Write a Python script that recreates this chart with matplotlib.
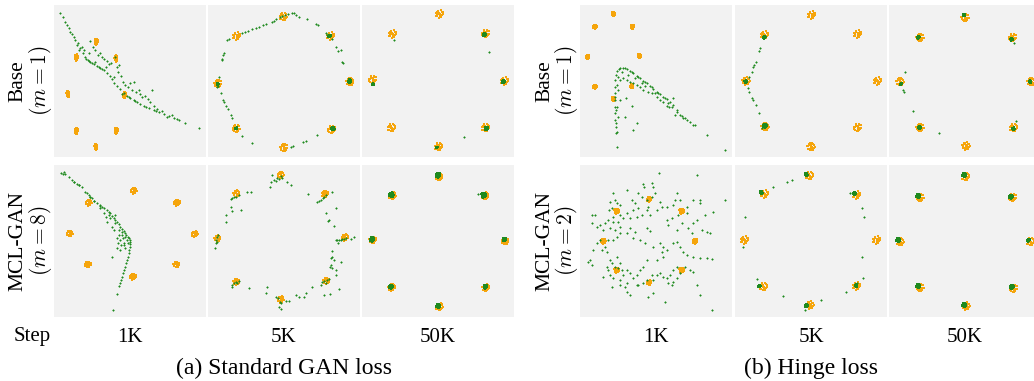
import numpy as np
import matplotlib
matplotlib.use("Agg")
import matplotlib.pyplot as plt

plt.rcParams['font.family'] = ['Liberation Serif', 'DejaVu Serif']
plt.rcParams['mathtext.fontset'] = 'cm'

ORANGE = '#f5a50c'
GREEN = '#1f8a1f'
BG = '#f2f2f2'

# ---------------- data (sample coordinates) ----------------
# unit spread pattern of one Gaussian mode
blob_dx = [0.0, 0.5, -0.5, 0.9, -0.9, 0.2, -0.3, 0.6, -0.6, 0.1, 0.8, -0.8,
           0.35, -0.15, 0.0, 0.45, -0.45, 0.7, -0.7, 0.25]
blob_dy = [0.0, 0.3, -0.4, 0.1, -0.2, 0.8, -0.8, -0.6, 0.6, 0.45, -0.5, 0.5,
           -0.9, 0.95, -0.35, 0.75, -0.7, 0.25, -0.1, 0.1]

row_names = ["Base", "MCL-GAN"]
m_std = [1, 8]
m_hinge = [1, 2]
steps = ["1K", "5K", "50K"]
captions = ["(a) Standard GAN loss", "(b) Hinge loss"]

# real modes (8 Gaussians), per panel view
real_a1 = [(288,125),(347,175),(373,285),(348,392),(287,440),(228,393),(203,282),(228,172)]
real_a2 = [(233,50),(375,108),(433,245),(378,388),(235,442),(92,385),(37,250),(93,108)]
real_a3 = [(237,42),(376,100),(432,243),(375,383),(235,440),(93,383),(37,238),(96,102)]
real_b1 = [(400,92),(530,128),(583,222),(528,313),(398,350),(263,313),(208,220),(265,128)]
real_b2 = [(225,45),(358,102),(418,232),(362,362),(225,418),(92,365),(35,235),(92,100)]
real_b3 = [(236,50),(374,107),(434,243),(376,383),(237,440),(94,382),(37,240),(96,107)]
real_c1 = [(280,42),(337,80),(358,168),(335,258),(280,297),(225,260),(203,170),(225,80)]
real_c2 = [(260,45),(398,102),(457,243),(398,382),(258,440),(120,380),(63,243),(118,105)]
real_c3 = [(240,52),(383,112),(438,245),(385,383),(243,438),(105,382),(45,245),(105,112)]
real_d1 = [(387,118),(485,153),(525,243),(485,330),(387,368),(290,330),(250,243),(290,153)]
real_d2 = [(253,47),(395,105),(455,240),(395,378),(255,435),(115,380),(58,240),(118,102)]
real_d3 = [(242,50),(383,112),(436,245),(385,385),(243,438),(105,382),(45,245),(105,112)]

# generated samples: isolated points
gen_a1 = [(180,38),(188,52),(195,65),(200,75),(205,85),(210,95),(215,103),(220,112),(225,120),
          (232,130),(240,145),(248,158),(255,170),(262,180),(270,187),(280,193),(290,198),(300,203),
          (310,210),(320,218),(328,228),(335,238),(342,248),(350,258),(360,268),(370,278),(380,288),
          (390,295),(400,300),(410,306),(420,312),(430,318),(445,324),(460,330),(475,336),(490,342),
          (505,348),(520,354),(535,360),(555,370),(595,385),(266,184),(276,190),(295,200),(305,206),
          (230,135),(245,142),(252,150),(265,160),(270,122),(278,140),(285,150),(292,165),(298,158),
          (305,172),(312,178),(320,183),(326,192),(333,188),(345,170),(350,200),(355,195),(352,215),
          (340,232),(362,228),(368,245),(375,255),(382,262),(390,248),(400,245),(395,270),(408,275),
          (415,270),(418,282),(425,292),(435,288),(442,298),(455,270),(450,305),(462,318),(470,328),
          (485,333),(500,350),(515,345),(530,356),(235,150),(258,176),(285,185),(318,200),(365,282),
          (385,292),(405,303),(438,322),(468,334)]
gen_a2 = [(65,120),(70,117),(110,98),(118,95),(128,92),(140,88),(150,83),(160,80),(172,75),(180,72),
          (198,65),(205,62),(212,58),(222,52),(228,48),(238,45),(248,42),(258,40),(265,38),(272,45),
          (280,50),(305,58),(330,72),(337,76),(362,100),(365,106),(378,118),(390,140),(398,152),
          (405,150),(410,185),(412,190),(335,405),(300,422),(292,426),(262,437),(255,440),(140,428),
          (110,408),(80,355),(75,345),(68,328),(62,318),(55,305),(52,300),(45,280),(38,258),(35,262),
          (40,230),(50,180),(52,165),(55,158),(48,178)]
gen_a3 = [(100,121),(387,157),(310,411)]
gen_b1 = [(182,38),(188,42),(195,42),(205,50),(215,60),(222,65),(230,72),(236,75),(245,80),(255,95),
          (260,100),(265,105),(270,110),(275,115),(282,122),(290,130),(298,136),(305,140),(312,145),
          (320,150),(326,155),(330,160),(336,168),(340,175),(345,180),(350,185),(355,192),(360,200),
          (365,206),(370,212),(375,220),(378,225),(382,230),(385,235),(388,240),(390,245),(389,252),
          (388,260),(386,270),(385,280),(383,290),(380,300),(378,310),(375,320),(372,330),(368,340),
          (365,350),(362,360),(360,370),(357,378),(350,403),(338,450),(320,185),(330,175),(345,190),
          (355,210),(350,235),(360,240),(365,225),(370,250),(380,240),(350,265),(360,270),(335,290),
          (372,255),(310,160),(300,145),(325,165),(345,165),(365,215),(375,230),(382,250),(190,35),
          (220,65),(235,75),(270,110),(280,122),(300,138),(318,170),(335,200),(342,210),(355,225),
          (368,235),(375,265),(362,255),(352,250)]
gen_b2 = [(215,55),(210,62),(200,45),(195,65),(192,80),(230,55),(245,65),(255,75),(225,48),(220,58),
          (205,60),(335,125),(345,120),(352,115),(355,110),(360,105),(340,122),(380,95),(308,103),
          (390,145),(360,160),(370,180),(367,182),(385,198),(390,240),(395,240),(400,240),(405,239),
          (410,238),(415,236),(420,235),(435,238),(445,230),(380,272),(375,295),(380,290),(372,320),
          (378,325),(405,305),(390,330),(392,345),(375,315),(398,250),(385,300),(345,375),(350,365),
          (355,362),(360,368),(365,360),(370,358),(355,405),(372,403),(400,388),(225,430),(220,440),
          (218,415),(210,412),(225,448),(222,425),(240,422),(250,422),(272,405),(280,412),(295,412),
          (300,400),(320,382),(180,400),(185,380),(130,385),(80,375),(85,370),(90,367),(95,368),
          (100,362),(78,380),(30,240),(35,245),(28,265),(38,225),(35,230),(32,248),(80,115),(85,112),
          (90,110),(75,118),(100,105),(125,97),(135,95),(75,140),(80,153),(105,150),(60,165),(62,185)]
gen_b3 = [(352,102)]
gen_c1 = [(290,440),(288,400),(287,380),(286,360),(285,340),(285,320),(285,300),(285,280),(285,260),
          (286,240),(288,225),(292,212),(300,205),(310,203),(320,207),(330,212),(340,220),(350,228),
          (360,235),(370,242),(380,250),(390,258),(400,266),(410,275),(420,283),(430,290),(440,298),
          (450,305),(460,315),(470,330),(480,345),(495,355),(510,365),(525,375),(560,405),(615,450),
          (295,230),(300,240),(310,235),(320,240),(330,245),(340,250),(350,255),(360,262),(370,270),
          (385,275),(395,280),(410,290),(420,300),(430,305),(445,310),(455,320),(460,295),(470,335),
          (485,348),(500,360),(290,255),(295,270),(300,300),(318,295),(337,318),(315,350),(338,390),
          (350,370),(290,320),(293,350),(292,395),(305,215),(325,225),(345,235),(365,248),(375,258),
          (405,280),(440,318),(448,322),(465,345),(490,355),(520,375),(286,290),(287,330),(288,370),
          (296,208),(315,205),(335,216),(355,232),(375,246),(395,262),(415,279),(435,294)]
gen_c2 = [(105,145),(102,152),(92,185),(88,195),(85,200),(80,215),(73,230),(68,265),(73,275),
          (80,295),(85,300),(92,315),(102,340),(110,385)]
gen_c3 = [(387,128),(392,362),(55,270),(58,276),(60,215),(85,333),(162,400)]
gen_d1 = [(418,38),(532,45),(322,90),(370,72),(372,82),(397,68),(400,80),(355,100),(365,110),
          (380,120),(395,110),(405,100),(420,125),(425,140),(440,140),(470,100),(465,120),(460,135),
          (480,120),(500,140),(520,120),(540,120),(540,130),(615,120),(580,155),(555,165),(530,180),
          (520,190),(500,160),(475,165),(455,175),(440,180),(445,195),(470,210),(485,190),(505,205),
          (515,220),(545,210),(560,215),(570,220),(280,100),(285,120),(270,125),(290,130),(300,135),
          (275,145),(268,150),(280,170),(300,165),(310,175),(295,185),(280,185),(265,180),(255,190),
          (240,195),(230,200),(215,190),(215,165),(225,165),(250,210),(270,205),(285,210),(300,220),
          (290,230),(280,240),(265,240),(255,260),(240,240),(230,250),(245,270),(260,275),(220,270),
          (210,300),(205,305),(215,315),(335,120),(345,130),(355,145),(340,150),(320,160),(330,175),
          (350,170),(365,165),(385,140),(380,150),(390,165),(410,150),(380,205),(390,212),(345,215),
          (330,205),(320,220),(300,200),(340,235),(360,240),(375,250),(400,260),(420,250),(430,260),
          (425,275),(440,270),(460,250),(470,245),(480,260),(490,275),(500,285),(520,290),(540,295),
          (560,295),(575,298),(430,290),(410,300),(380,300),(370,320),(360,330),(350,345),(330,340),
          (340,355),(320,330),(310,345),(300,360),(280,355),(275,380),(300,375),(315,380),(320,395),
          (330,405),(270,300),(275,310),(285,320),(295,325),(265,330),(260,320),(270,345),(250,350),
          (290,290),(300,310),(355,375),(370,370),(380,360),(395,345),(400,360),(410,345),(420,340),
          (430,350),(440,355),(450,345),(460,365),(445,370),(455,375),(470,355),(480,340),(495,320),
          (510,330),(520,335),(530,375),(540,405),(435,425),(385,410),(400,400),(575,450),(350,375),
          (320,370),(305,330),(470,320),(460,330)]
gen_d2 = [(200,60),(187,67),(143,80),(375,98),(412,143),(418,170),(60,170),(53,262),(95,357),
          (175,408),(240,450),(288,420),(395,370),(413,353),(362,397),(410,290)]
gen_d3 = []

# generated samples: collapsed clusters (center x, center y, spread)
gclu_a1 = []
gclu_a2 = [(432,243,6),(382,385,6),(372,108,4),(37,252,3),(92,385,3)]
gclu_a3 = [(372,104,5),(430,245,5),(378,385,6),(38,253,3),(230,442,2)]
gclu_b1 = []
gclu_b2 = []
gclu_b3 = [(233,45,8),(370,105,8),(432,238,6),(375,380,6),(233,438,7),(92,380,7),(35,238,7),(93,104,8)]
gclu_c1 = []
gclu_c2 = [(118,112,4),(62,245,4),(120,377,6)]
gclu_c3 = [(237,45,4),(380,118,4),(435,245,4),(385,386,4),(48,252,3),(103,382,5),(100,112,4)]
gclu_d1 = []
gclu_d2 = [(243,43,5),(388,100,5),(108,97,5),(103,378,4),(245,437,5),(393,377,4)]
gclu_d3 = [(237,45,7),(378,110,7),(430,240,5),(380,380,7),(237,435,7),(100,378,7),(40,240,7),(100,108,7)]

# view window origin of each panel (same units as samples), and spread of real modes
panels = [
    # (row, col, group, real, real spread (sx, sy), gen points, gen clusters, view origin)
    (0, 0, 0, real_a1, (5, 10), gen_a1, gclu_a1, (160, 15)),
    (0, 1, 0, real_a2, (12, 12), gen_a2, gclu_a2, (6, 15)),
    (0, 2, 0, real_a3, (12, 12), gen_a3, gclu_a3, (5, 15)),
    (1, 0, 0, real_b1, (10, 9), gen_b1, gclu_b1, (160, 15)),
    (1, 1, 0, real_b2, (10, 10), gen_b2, gclu_b2, (6, 15)),
    (1, 2, 0, real_b3, (11, 11), gen_b3, gclu_b3, (5, 15)),
    (0, 0, 1, real_c1, (6, 7), gen_c1, gclu_c1, (180, 15)),
    (0, 1, 1, real_c2, (12, 12), gen_c2, gclu_c2, (30, 15)),
    (0, 2, 1, real_c3, (12, 12), gen_c3, gclu_c3, (12, 15)),
    (1, 0, 1, real_d1, (8, 8), gen_d1, gclu_d1, (180, 15)),
    (1, 1, 1, real_d2, (12, 12), gen_d2, gclu_d2, (30, 15)),
    (1, 2, 1, real_d3, (12, 12), gen_d3, gclu_d3, (12, 15)),
]

# ---------------- layout ----------------
W, H = 1034, 381
fig = plt.figure(figsize=(W / 100, H / 100), dpi=100)

col_x = [[53.5, 207.5, 362.0], [580.0, 735.0, 889.0]]
row_top = [5.0, 165.0]
PW = PH = 152.0
SPAN = 456.0

bdx = np.array(blob_dx)
bdy = np.array(blob_dy)

for (r, c, g, real, (sx, sy), gpts, gclu, (ox, oy)) in panels:
    x0 = col_x[g][c]
    y0 = row_top[r]
    ax = fig.add_axes([x0 / W, 1 - (y0 + PH) / H, PW / W, PH / H])
    ax.set_facecolor(BG)
    for s in ax.spines.values():
        s.set_visible(False)
    ax.set_xticks([])
    ax.set_yticks([])
    # real data
    rc = np.array(real, dtype=float)
    rx = (rc[:, 0:1] + sx * bdx[None, :]).ravel()
    ry = (rc[:, 1:2] + sy * bdy[None, :]).ravel()
    ax.scatter(rx, ry, s=3.2, c=ORANGE, marker='s', linewidths=0, zorder=2)
    # generated clusters
    if gclu:
        gc = np.array(gclu, dtype=float)
        gx = (gc[:, 0:1] + gc[:, 2:3] * bdx[None, :]).ravel()
        gy = (gc[:, 1:2] + gc[:, 2:3] * bdy[None, :]).ravel()
        ax.scatter(gx, gy, s=2.6, c=GREEN, marker='s', linewidths=0, zorder=3)
    if gpts:
        gp = np.array(gpts, dtype=float)
        ax.scatter(gp[:, 0], gp[:, 1], s=2.2, c=GREEN, marker='+', linewidths=0.8, zorder=3)
    ax.set_xlim(ox, ox + SPAN)
    ax.set_ylim(oy + SPAN, oy)

# ---------------- text ----------------
def ftext(x, y, s, **kw):
    fig.text(x / W, 1 - y / H, s, **kw)

for g, ms in enumerate([m_std, m_hinge]):
    xa = [17.5, 545.0][g]
    xb = [41.0, 567.0][g]
    for r in range(2):
        yc = row_top[r] + PH / 2
        ftext(xa, yc, row_names[r], rotation=90, ha='center', va='center', fontsize=15.5)
        ftext(xb, yc, r'$(m=%d)$' % ms[r], rotation=90, ha='center', va='center', fontsize=15.5)
    for c in range(3):
        ftext(col_x[g][c] + PW / 2, 337, steps[c], ha='center', va='center', fontsize=15)
    ftext([284, 811][g], 368, captions[g], ha='center', va='center', fontsize=17)

ftext(32, 337, "Step", ha='center', va='center', fontsize=15)

fig.savefig("out.png", dpi=100, facecolor='white')
